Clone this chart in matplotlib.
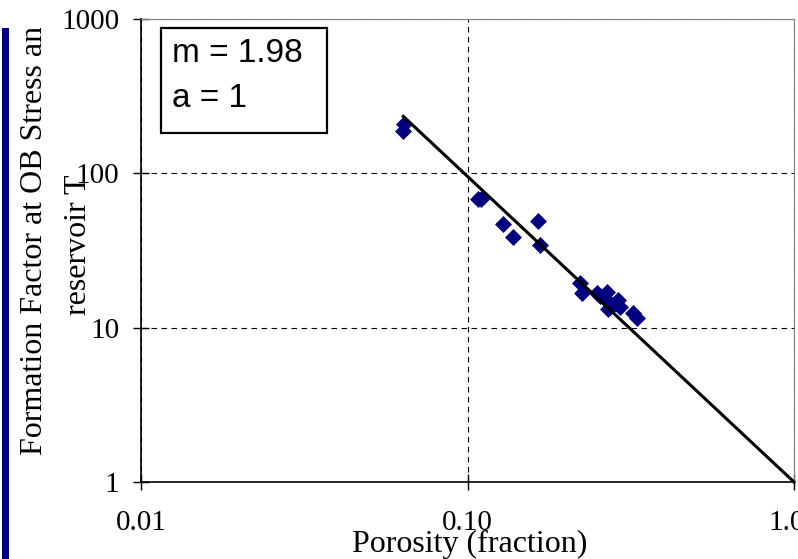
import numpy as np
import matplotlib
matplotlib.use("Agg")
import matplotlib.pyplot as plt
from matplotlib.patches import Rectangle
from matplotlib.transforms import Bbox, TransformedBbox

# porosity (fraction) and formation factor
porosity = [0.0639, 0.0636, 0.1074, 0.1100, 0.128, 0.138, 0.164, 0.1668,
            0.2212, 0.224, 0.2487, 0.255, 0.262, 0.2668, 0.2728, 0.270,
            0.280, 0.2897, 0.294, 0.322, 0.330]
form_factor = [209, 188, 67.9, 68.5, 46.9, 38.5, 49.3, 34.2,
               19.5, 16.8, 16.7, 16.0, 15.5, 16.9, 14.4, 13.2,
               14.0, 15.1, 13.7, 12.4, 11.5]

# Archie fit
m = 1.98
a = 1
fit_phi = np.array([min(porosity), 1.0])
fit_F = a * fit_phi ** (-m)

x_ticks = [0.01, 0.1, 1.0]
x_ticklabels = ["0.01", "0.10", "1.00"]
y_ticks = [1, 10, 100, 1000]
y_ticklabels = ["1", "10", "100", "1000"]

W, H = 798, 559
fig = plt.figure(figsize=(W / 100, H / 100), dpi=100)
ax = fig.add_axes([141 / W, 1 - 482 / H, (794 - 141) / W, (482 - 19) / H])

ax.set_xscale("log")
ax.set_yscale("log")
ax.set_xlim(0.01, 1.0)
ax.set_ylim(1, 1000)

ax.grid(True, which="major", color="black", linestyle=(0, (5, 4)), linewidth=0.8)
ax.set_axisbelow(True)

ax.plot(porosity, form_factor, linestyle="none", marker="D", markersize=8.5,
        color="#000080", markeredgecolor="#000080", markeredgewidth=0.5, zorder=3)
ax.plot(fit_phi, fit_F, color="black", linewidth=2.2, zorder=4, clip_on=False)

ax.set_xticks(x_ticks)
ax.set_xticklabels(x_ticklabels)
ax.set_yticks(y_ticks)
ax.set_yticklabels(y_ticklabels)
ax.minorticks_off()
ax.tick_params(axis="both", direction="inout", length=11, width=1, colors="black",
               labelsize=21)
ax.tick_params(axis="x", pad=15)
ax.tick_params(axis="y", pad=10)
for lab in ax.get_xticklabels() + ax.get_yticklabels():
    lab.set_fontfamily("Liberation Serif")

ax.spines["left"].set_color("black")
ax.spines["bottom"].set_color("black")
ax.spines["left"].set_linewidth(1.2)
ax.spines["bottom"].set_linewidth(1.2)
ax.spines["top"].set_color("#808080")
ax.spines["right"].set_color("#808080")
ax.spines["top"].set_linewidth(0.8)
ax.spines["right"].set_linewidth(0.8)

# x axis title
fig.text(470 / W, 1 - 552 / H, "Porosity (fraction)", ha="center", va="baseline",
         fontsize=23, family="Liberation Serif")

# y axis title, two lines, clipped at the top like the slide crop
clip = TransformedBbox(Bbox([[0, 0], [1, 1 - 28 / H]]), fig.transFigure)
t1 = fig.text(42 / W, 1 - 455 / H, "Formation Factor at OB Stress and",
              rotation=90, rotation_mode="anchor", ha="left", va="baseline",
              fontsize=23, family="Liberation Serif")
t1.set_clip_box(clip)
t1.set_clip_on(True)
fig.text(86 / W, 1 - 315 / H, "reservoir T", rotation=90, rotation_mode="anchor",
         ha="left", va="baseline", fontsize=23, family="Liberation Serif")

# blue bar on the left edge
fig.patches.append(Rectangle((2 / W, 0), 7 / W, 1 - 28 / H, transform=fig.transFigure,
                             facecolor="#000080", edgecolor="none"))

# m / a box
fig.patches.append(Rectangle((161 / W, 1 - 133 / H), (327 - 161) / W, (133 - 28) / H,
                             transform=fig.transFigure, facecolor="white",
                             edgecolor="black", linewidth=1.6, zorder=5))
fig.text(172 / W, 1 - 62 / H, "m = %.2f" % m, ha="left", va="baseline", fontsize=24,
         family="Liberation Sans", zorder=6)
fig.text(172 / W, 1 - 107 / H, "a = %d" % a, ha="left", va="baseline", fontsize=24,
         family="Liberation Sans", zorder=6)

fig.savefig("out.png", dpi=100)
